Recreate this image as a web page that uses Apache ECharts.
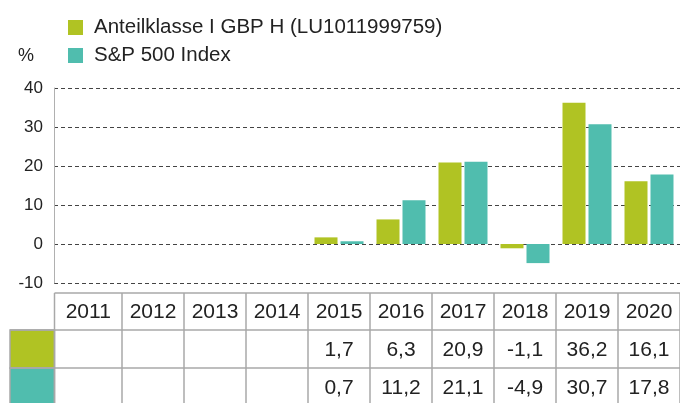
<!DOCTYPE html>
<html><head><meta charset="utf-8">
<script src="https://cdn.jsdelivr.net/npm/echarts@6/dist/echarts.min.js"></script>
<style>html,body{margin:0;padding:0;background:#fff}#c{width:680px;height:403px}</style>
</head><body><div id="c"></div>
<script>
const years = ['2011','2012','2013','2014','2015','2016','2017','2018','2019','2020'];
const fundName = 'Anteilklasse I GBP H (LU1011999759)';
const indexName = 'S&P 500 Index';
const fundValues = [null,null,null,null,1.7,6.3,20.9,-1.1,36.2,16.1];
const indexValues = [null,null,null,null,0.7,11.2,21.1,-4.9,30.7,17.8];
const yMin = -10, yMax = 40, yStep = 10;
const unitLabel = '%';

const OLIVE = '#b0c323', TEAL = '#50bdae';
const FONT = '"Liberation Sans", Arial, sans-serif';
const TXT = '#222';
const chart = echarts.init(document.getElementById('c'), null, {renderer:'canvas'});
const gTop = 88, gBottom = 120;
chart.setOption({
  animation:false,
  textStyle:{fontFamily:FONT},
  title:{text:unitLabel,left:13,top:42,textStyle:{fontFamily:FONT,fontSize:18,fontWeight:'normal',color:TXT}},
  legend:{orient:'vertical',left:68,top:17,itemWidth:15,itemHeight:15,itemGap:7,padding:0,icon:'rect',
    textStyle:{fontFamily:FONT,fontSize:20.5,color:TXT,padding:[0,0,0,6]},
    data:[fundName,indexName]},
  grid:[
    {left:54,right:0,top:gTop,bottom:gBottom},
    {left:60,right:-3,top:gTop,bottom:gBottom}
  ],
  xAxis:[
    {type:'category',gridIndex:0,data:years,show:false},
    {type:'category',gridIndex:1,data:years,show:false}
  ],
  yAxis:[
    {type:'value',gridIndex:0,min:yMin,max:yMax,interval:yStep,
     axisLine:{show:true,lineStyle:{color:'#b0b0b0',width:1}},axisTick:{show:false},
     axisLabel:{fontFamily:FONT,fontSize:17,color:TXT,margin:11},
     splitLine:{lineStyle:{color:'#444',type:[4,3],width:1}}},
    {type:'value',gridIndex:1,min:yMin,max:yMax,interval:yStep,show:false,splitLine:{show:false}}
  ],
  series:[
    {name:fundName,type:'bar',xAxisIndex:1,yAxisIndex:1,data:fundValues,barWidth:23,barGap:'13%',itemStyle:{color:OLIVE}},
    {name:indexName,type:'bar',xAxisIndex:1,yAxisIndex:1,data:indexValues,barWidth:23,barGap:'13%',itemStyle:{color:TEAL}}
  ]
});

// Table below the chart, positioned from the category axis
const fmt = v => v == null ? '' : v.toFixed(1).replace('.', ',');
const centers = years.map(y => chart.convertToPixel({xAxisIndex:1}, y));
const cw = centers[1] - centers[0];
const tableLeft = 54.5;
const rowY = [293, 330, 368, 407];
const swatchLeft = 10;
const BORDER = '#a8a8a8';
const els = [];
const lineStyle = {stroke:BORDER,lineWidth:1.5};
[OLIVE, TEAL].forEach((c, r) => {
  els.push({type:'rect',shape:{x:swatchLeft,y:rowY[r+1],width:tableLeft-swatchLeft,height:rowY[r+2]-rowY[r+1]},style:{fill:c,stroke:BORDER,lineWidth:1.5}});
});
const rightEdge = centers[centers.length-1] + cw/2;
rowY.forEach((y, r) => {
  els.push({type:'line',shape:{x1:r===0?tableLeft:swatchLeft,y1:y,x2:rightEdge,y2:y},style:lineStyle});
});
const bounds = [tableLeft].concat(centers.map(c => c + cw/2));
bounds.forEach(x => els.push({type:'line',shape:{x1:x,y1:rowY[0],x2:x,y2:rowY[3]},style:lineStyle}));
const rows = [years, fundValues.map(fmt), indexValues.map(fmt)];
rows.forEach((arr, r) => {
  arr.forEach((t, i) => {
    if (!t) return;
    const x0 = i === 0 ? tableLeft : centers[i] - cw/2;
    const x1 = centers[i] + cw/2;
    els.push({type:'text',style:{text:t,x:(x0+x1)/2,y:(rowY[r]+rowY[r+1])/2+1,align:'center',verticalAlign:'middle',
      font:'21px ' + FONT,fill:TXT}});
  });
});
chart.setOption({graphic:{elements:els}});
</script></body></html>
